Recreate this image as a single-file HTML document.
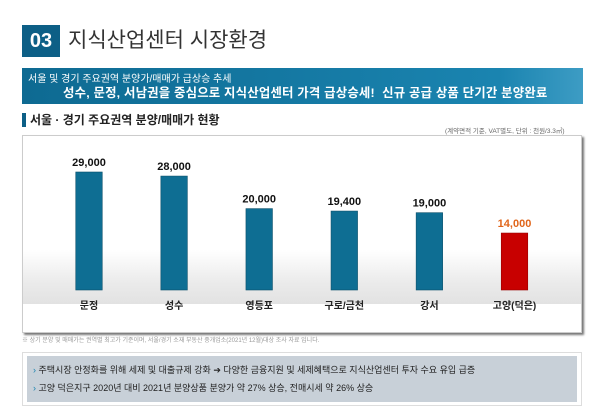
<!DOCTYPE html>
<html><head><meta charset="utf-8">
<style>
body{margin:0;width:600px;height:415px;background:#fff;font-family:"Liberation Sans","Noto Sans CJK KR",sans-serif;position:relative;overflow:hidden}
.a{position:absolute}
</style></head><body>
<div class="a" style="left:22px;top:25px;width:38px;height:32px;background:#0d5f86;color:#fff;font-size:20px;font-weight:bold;line-height:32px;text-align:center">03</div>
<div class="a" style="left:68px;top:25px;font-size:21px;line-height:32px;color:#333">지식산업센터 시장환경</div>
<div class="a" style="left:22px;top:68px;width:561px;height:36px;background:linear-gradient(90deg,#0e6a92,#1a84b0 85%,#3d9cc4);overflow:hidden">
<div class="a" style="left:6px;top:2px;font-size:10px;color:#fff">서울 및 경기 주요권역 분양가/매매가 급상승 추세</div>
<div class="a" style="left:41px;top:15px;font-size:12.4px;font-weight:bold;color:#fff;white-space:nowrap;letter-spacing:0.2px">성수, 문정, 서남권을 중심으로 지식산업센터 가격 급상승세!&nbsp; 신규 공급 상품 단기간 분양완료</div></div>
<div class="a" style="left:22px;top:113px;width:4px;height:14px;background:#0d5f86"></div>
<div class="a" style="left:30px;top:111px;font-size:12px;font-weight:bold;color:#222">서울 · 경기 주요권역 분양/매매가 현황</div>
<div class="a" style="left:445px;top:125px;font-size:6.5px;color:#666">(계약면적 기준, VAT별도, 단위 : 천원/3.3㎡)</div>
<div class="a" style="left:22px;top:135px;width:558px;height:196px;border:1px solid #ccc;box-shadow:2px 2px 2px #777;background:#fff"></div>
<div class="a" style="left:23px;top:250px;width:558px;height:54px;background:linear-gradient(180deg,rgba(235,235,235,0),#ebebeb 60%,#e2e2e2)"></div>
<svg class="a" style="left:0;top:0" width="600" height="415" id="chart"></svg>
<div class="a" style="left:22px;top:335px;font-size:6px;color:#999">※ 상기 분양 및 매매가는 권역별 최고가 기준이며, 서울/경기 소재 부동산 중개업소(2021년 12월)대상 조사 자료 입니다.</div>
<div class="a" style="left:22px;top:352px;width:558px;height:52px;border:1px solid #ddd;background:#fff">
<div class="a" style="left:4px;top:3px;width:550px;height:46px;background:#c8d0d8"></div>
<div class="a" style="left:10px;top:10px;font-size:9px;color:#222;white-space:nowrap"><span style="color:#1a84b0">›</span> 주택시장 안정화를 위해 세제 및 대출규제 강화 ➔ 다양한 금융지원 및 세제혜택으로 지식산업센터 투자 수요 유입 급증</div>
<div class="a" style="left:10px;top:28px;font-size:9px;color:#222;white-space:nowrap"><span style="color:#1a84b0">›</span> 고양 덕은지구 2020년 대비 2021년 분양상품 분양가 약 27% 상승, 전매시세 약 26% 상승</div>
</div>
<script>
const categories=["문정","성수","영등포","구로/금천","강서","고양(덕은)"];
const values=[29000,28000,20000,19400,19000,14000];
const valueLabels=["29,000","28,000","20,000","19,400","19,000","14,000"];
const svg=document.getElementById('chart');
const NS='http://www.w3.org/2000/svg';
const baseY=290,scale=118/29000,x0=89,step=85.1,bw=26.5;
const xPos=i=>x0+i*step;
const yPos=v=>baseY-v*scale;
categories.forEach((c,i)=>{
 const hi=i===categories.length-1;
 const r=document.createElementNS(NS,'rect');
 r.setAttribute('x',xPos(i)-bw/2);r.setAttribute('y',yPos(values[i]));
 r.setAttribute('width',bw);r.setAttribute('height',baseY-yPos(values[i]));
 r.setAttribute('fill',hi?'#c80000':'#0e6e93');r.setAttribute('stroke',hi?'#900':'#0a4f6a');r.setAttribute('stroke-width','0.6');
 
 
 svg.appendChild(r);
 const t=document.createElementNS(NS,'text');
 t.setAttribute('x',xPos(i));t.setAttribute('y',yPos(values[i])-6);
 t.setAttribute('text-anchor','middle');t.setAttribute('font-size','11');t.setAttribute('font-weight','bold');
 t.setAttribute('fill',hi?'#e0651a':'#111');t.textContent=valueLabels[i];
 
 
 svg.appendChild(t);
 const l=document.createElementNS(NS,'text');
 l.setAttribute('x',xPos(i));l.setAttribute('y',309);
 l.setAttribute('text-anchor','middle');l.setAttribute('font-size','10');l.setAttribute('font-weight','bold');l.setAttribute('fill','#222');
 l.textContent=c;
 
 
 svg.appendChild(l);
});
</script>
</body></html>
